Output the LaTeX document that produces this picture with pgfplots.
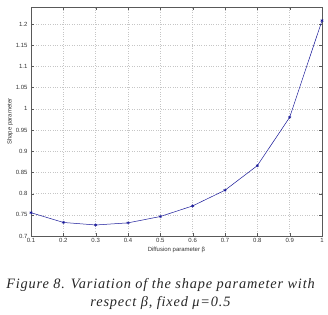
\documentclass[border=0pt]{standalone}
\usepackage{pgfplots}
\pgfplotsset{compat=1.18}
\usepackage{fontspec}
\setmainfont{Liberation Sans}
\newfontfamily\capfont[LetterSpace=6]{Liberation Serif}
\usetikzlibrary{calc}
\definecolor{lineblue}{rgb}{0.1,0.1,0.6}
\begin{document}
\begin{tikzpicture}
\begin{axis}[name=ax,
  scale only axis, width=291pt, height=229pt,
  xmin=0.1, xmax=1, ymin=0.7, ymax=1.24,
  xtick={0.1,0.2,...,1.0},
  ytick={0.7,0.75,...,1.21},
  grid=major,
  grid style={dotted, gray!45},
  axis line style={gray!70!black, line width=0.4pt},
  tick style={gray!70!black},
  major tick length=3pt,
  tick align=inside,
  /pgf/number format/assume math mode=true,
  ticklabel style={font=\fontsize{6}{7}\selectfont, text=black!80},
  xticklabel style={yshift=1pt},
  xlabel={Diffusion parameter β},
  ylabel={Shape parameter},
  label style={font=\fontsize{6}{7}\selectfont, text=black!80},
  xlabel style={yshift=3pt},
  ylabel style={yshift=-4pt},
]
\addplot[lineblue, line width=0.5pt, mark=asterisk, mark size=1.6pt] coordinates {
(0.1,0.755) (0.2,0.732) (0.3,0.726) (0.4,0.731) (0.5,0.746)
(0.6,0.771) (0.7,0.808) (0.8,0.866) (0.9,0.980) (1.0,1.208)
};
\end{axis}
\node[font=\capfont\itshape\fontsize{14.3}{18}\selectfont, text=black!85, align=center, anchor=north]
  at ($(ax.south)+(-16pt,-39pt)$) {Figure 8. Variation of the shape parameter with\\respect β, fixed μ=0.5};
\pgfresetboundingbox
\path[use as bounding box] ($(ax.south west)+(-31pt,-78pt)$) rectangle ($(ax.north east)+(6pt,7pt)$);
\end{tikzpicture}
\end{document}
